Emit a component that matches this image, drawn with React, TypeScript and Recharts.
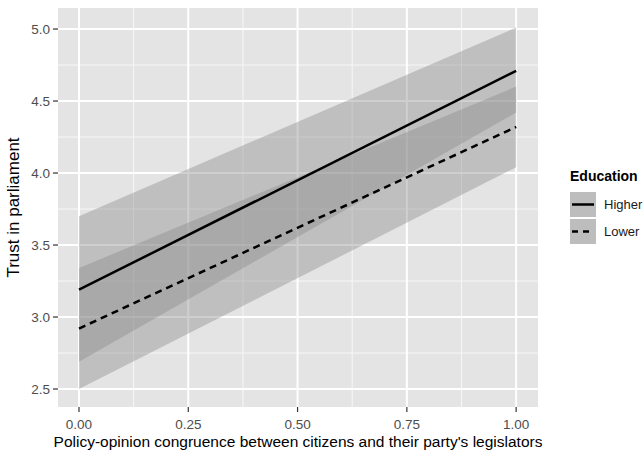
import React from 'react';
import {
  ComposedChart, Area, Line, XAxis, YAxis, CartesianGrid, Label,
} from 'recharts';

// congruence (x) and fitted trust values
const congruence = [0, 1];
const higherFit = [3.19, 4.71];
const higherLow = [2.69, 4.42];
const higherHigh = [3.70, 5.01];
const lowerFit = [2.92, 4.32];
const lowerLow = [2.50, 4.04];
const lowerHigh = [3.34, 4.60];

const xTicks = [0, 0.25, 0.5, 0.75, 1];
const xMinor = [0.125, 0.375, 0.625, 0.875];
const yTicks = [2.5, 3.0, 3.5, 4.0, 4.5, 5.0];
const yMinor = [2.75, 3.25, 3.75, 4.25, 4.75];

const legendItems = [
  { label: 'Higher', dash: undefined },
  { label: 'Lower', dash: '6 5' },
];

const data = congruence.map((x, i) => ({
  x,
  higher: higherFit[i],
  lower: lowerFit[i],
  higherBand: [higherLow[i], higherHigh[i]],
  lowerBand: [lowerLow[i], lowerHigh[i]],
}));

const FONT = '"Liberation Sans", Arial, sans-serif';
const RIBBON = '#8a8a8a';

function EducationLegend() {
  return (
    <div style={{ position: 'absolute', left: 570, top: 168, width: 73, fontFamily: FONT }}>
      <div style={{ fontSize: 14, fontWeight: 'bold', color: '#000', height: 18, marginBottom: 6 }}>Education</div>
      {legendItems.map(item => (
        <div key={item.label} style={{ display: 'flex', alignItems: 'center', height: 25, marginBottom: 2 }}>
          <svg width={26} height={25} style={{ flex: 'none' }}>
            <rect x={0} y={0} width={26} height={25} fill="#bdbdbd" />
            <line x1={2} y1={12.5} x2={24} y2={12.5} stroke="#000" strokeWidth={2.5} strokeDasharray={item.dash} />
          </svg>
          <span style={{ fontSize: 13, color: '#1a1a1a', marginLeft: 8, whiteSpace: 'nowrap' }}>{item.label}</span>
        </div>
      ))}
    </div>
  );
}

export default function App() {
  return (
    <div style={{ position: 'absolute', left: 0, top: 0, width: 643, height: 453, background: '#fff', overflow: 'hidden' }}>
      <ComposedChart
        width={643}
        height={453}
        data={data}
        margin={{ top: 8, right: 105, bottom: 0, left: 0 }}
      >
        <CartesianGrid
          fill="#e4e4e4"
          stroke="#f7f7f7"
          strokeWidth={1}
          horizontalValues={yMinor}
          verticalValues={xMinor}
        />
        <CartesianGrid
          stroke="#ffffff"
          strokeWidth={2}
          horizontalValues={yTicks}
          verticalValues={xTicks}
        />
        <XAxis
          dataKey="x"
          type="number"
          domain={[-0.048, 1.05]}
          ticks={xTicks}
          allowDataOverflow
          tickFormatter={v => v.toFixed(2)}
          axisLine={false}
          tickLine={{ stroke: '#333', strokeWidth: 1.2 }}
          tickSize={5}
          tickMargin={7}
          height={46}
          tick={{ fontSize: 13.5, fill: '#4d4d4d', fontFamily: FONT }}
        >
          <Label
            content={({ viewBox }: any) => (
              <text
                x={viewBox.x + viewBox.width / 2}
                y={447}
                textAnchor="middle"
                fontSize={15.5}
                fontFamily={FONT}
                fill="#000"
              >
                Policy-opinion congruence between citizens and their party's legislators
              </text>
            )}
          />
        </XAxis>
        <YAxis
          type="number"
          domain={[2.375, 5.146]}
          ticks={yTicks}
          allowDataOverflow
          tickFormatter={v => v.toFixed(1)}
          axisLine={false}
          tickLine={{ stroke: '#333', strokeWidth: 1.2 }}
          tickSize={5}
          tickMargin={3}
          width={58}
          tick={{ fontSize: 13.5, fill: '#4d4d4d', fontFamily: FONT }}
        >
          <Label
            content={({ viewBox }: any) => {
              const cy = viewBox.y + viewBox.height / 2;
              return (
                <text
                  x={19}
                  y={cy}
                  transform={`rotate(-90 19 ${cy})`}
                  textAnchor="middle"
                  fontSize={17}
                  fontFamily={FONT}
                  fill="#000"
                >
                  Trust in parliament
                </text>
              );
            }}
          />
        </YAxis>
        <Area
          type="linear"
          dataKey="higherBand"
          stroke="none"
          fill={RIBBON}
          fillOpacity={0.41}
          isAnimationActive={false}
        />
        <Area
          type="linear"
          dataKey="lowerBand"
          stroke="none"
          fill={RIBBON}
          fillOpacity={0.41}
          isAnimationActive={false}
        />
        <Line
          type="linear"
          dataKey="higher"
          stroke="#000"
          strokeWidth={2.5}
          dot={false}
          isAnimationActive={false}
        />
        <Line
          type="linear"
          dataKey="lower"
          stroke="#000"
          strokeWidth={2.5}
          strokeDasharray="7 5"
          dot={false}
          isAnimationActive={false}
        />
      </ComposedChart>
      <EducationLegend />
    </div>
  );
}
